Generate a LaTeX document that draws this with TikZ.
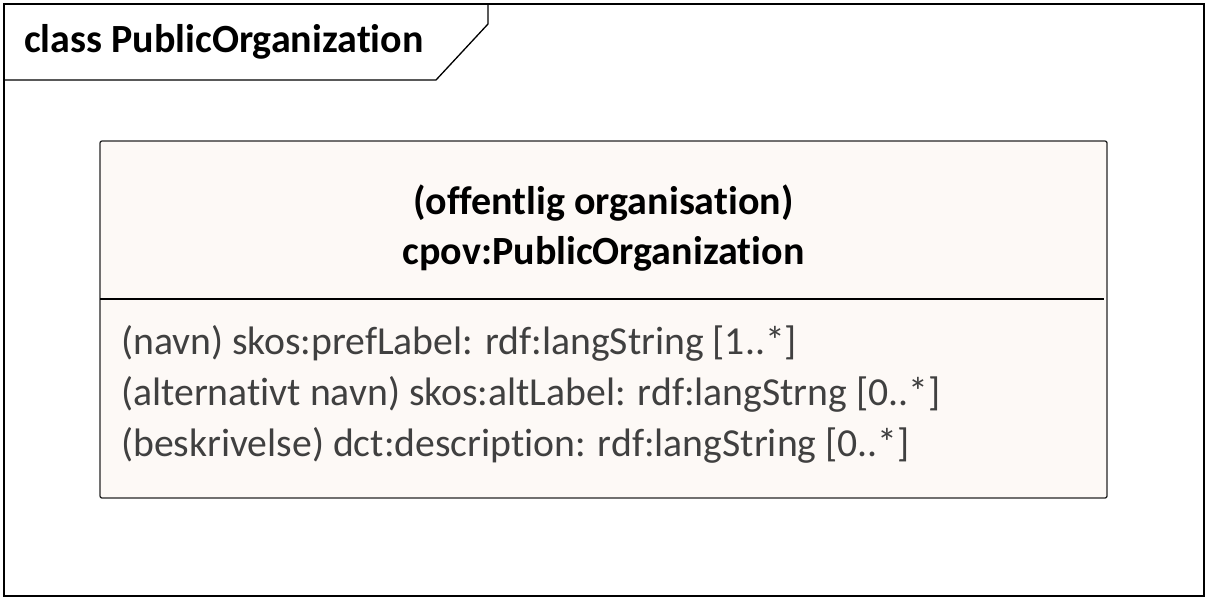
\documentclass[tikz,border=0pt]{standalone}
\usepackage{fontspec}
\setmainfont{Carlito}[Ligatures=NoCommon]
\usepackage{xcolor}
\usetikzlibrary{positioning}
\definecolor{classfill}{HTML}{FDF9F6}
\definecolor{attrtext}{HTML}{404040}

\begin{document}
\begin{tikzpicture}[
    x=1pt, y=-1pt,
    frameline/.style={draw=black, line width=1.3pt},
    classbox/.style={draw=black!85, line width=1.3pt, fill=classfill, rounded corners=2pt},
    hdr/.style={font=\fontsize{40}{48}\selectfont\bfseries, inner sep=0pt},
    attr/.style={font=\fontsize{39.7}{48}\selectfont, text=attrtext, anchor=west, inner sep=0pt},
]
\useasboundingbox (0,0) rectangle (1208,600);

% Diagram frame with name tab
\draw[frameline] (4,4) rectangle (1204,596);
\draw[frameline] (488,4) -- (488,24) -- (436,80) -- (4,80);
\node[hdr, anchor=west] (title) at (24,42) {class PublicOrganization};

% Class box
\draw[classbox] (100,141) rectangle (1107,498);
\node[hdr] (alias) at (603.5,203) {(offentlig organisation)};
\node[hdr] (cls) at (603.5,254) {cpov:PublicOrganization};
\draw[line width=1.3pt] (100,299) -- (1104,299);

% Attributes
\node[attr] (a1) at (121,343) {(navn) skos:prefLabel: rdf:langString [1..*]};
\node[attr] (a2) at (121,394) {(alternativt navn) skos:altLabel: rdf:langStrng [0..*]};
\node[attr] (a3) at (121,445) {(beskrivelse) dct:description: rdf:langString [0..*]};
\end{tikzpicture}
\end{document}
